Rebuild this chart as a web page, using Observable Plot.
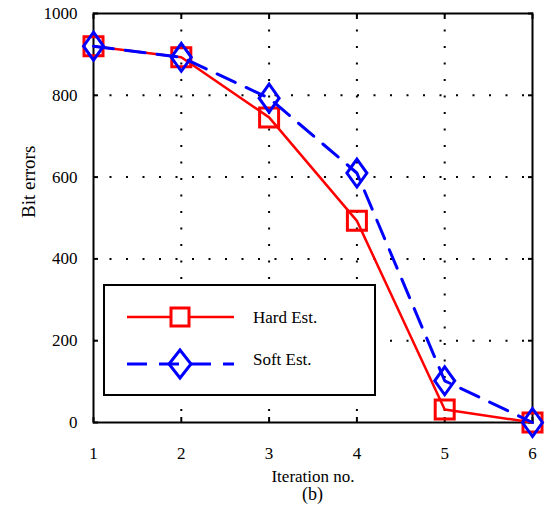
<!DOCTYPE html>
<html>
<head>
<meta charset="utf-8">
<script src="https://cdn.jsdelivr.net/npm/d3@7"></script>
<script src="https://cdn.jsdelivr.net/npm/@observablehq/plot@0.6"></script>
<style>
  html, body { margin: 0; padding: 0; background: white; }
  #wrap { position: relative; width: 552px; height: 510px; font-family: "Liberation Serif", "Times New Roman", serif; }
  #chart svg { font-family: "Liberation Serif", "Times New Roman", serif !important; font-size: 17px !important; }
  #caption { position: absolute; left: 0; width: 625px; top: 484px; text-align: center; font-size: 18px; line-height: 20px; }
  #legend { position: absolute; left: 103px; top: 284px; width: 269px; height: 108px; border: 2px solid black; background: white; }
  #legend svg { position: absolute; left: 0; top: 0; }
  #legend .lab { position: absolute; left: 148px; font-size: 17px; line-height: 18px; }
</style>
</head>
<body>
<div id="wrap"><div id="chart"></div>
<div id="legend"></div>
<div id="caption">(b)</div>
</div>
<script>
// ---- data ----
const iterations = [1, 2, 3, 4, 5, 6];
const hardEst = [920, 893, 746, 493, 32, 0];
const softEst = [920, 893, 793, 610, 102, 0];
const seriesNames = ["Hard Est.", "Soft Est."];
const xTicks = [1, 2, 3, 4, 5, 6];
const yTicks = [0, 200, 400, 600, 800, 1000];
const xGrid = [2, 3, 4, 5];
const yGrid = [200, 400, 600, 800];
const xLabel = "Iteration no.";
const yLabel = "Bit errors";

const hard = iterations.map((x, i) => ({x, y: hardEst[i]}));
const soft = iterations.map((x, i) => ({x, y: softEst[i]}));

// custom marker shapes (MATLAB-like)
const squareSym = {draw(ctx) { const s = 9.5; ctx.moveTo(-s, -s); ctx.lineTo(s, -s); ctx.lineTo(s, s); ctx.lineTo(-s, s); ctx.closePath(); }};
const diamondSym = {draw(ctx) { const w = 10, h = 14; ctx.moveTo(0, -h); ctx.lineTo(w, 0); ctx.lineTo(0, h); ctx.lineTo(-w, 0); ctx.closePath(); }};

const RED = "#ff0000", BLUE = "#0000ff";
const fmt = d => String(d);

const chart = Plot.plot({
  width: 552,
  height: 470,
  marginLeft: 93,
  marginRight: 20,
  marginTop: 13,
  marginBottom: 48,
  style: {fontFamily: "Liberation Serif", fontSize: "17px", color: "black", background: "white", overflow: "visible"},
  x: {domain: [1, 6]},
  y: {domain: [0, 1000]},
  marks: [
    Plot.ruleY(yGrid, {y: d => d, stroke: "black", strokeWidth: 2, strokeDasharray: "2,14.5", strokeOpacity: 1}),
    Plot.ruleX(xGrid, {x: d => d, stroke: "black", strokeWidth: 2, strokeDasharray: "2,14.5", strokeOpacity: 1}),
    // inward tick marks on all sides
    Plot.axisX(xTicks, {anchor: "bottom", tickSize: -5, text: null, label: null, strokeWidth: 2}),
    Plot.axisX(xTicks, {anchor: "top", tickSize: -5, text: null, label: null, strokeWidth: 2}),
    Plot.axisY(yTicks, {anchor: "left", tickSize: -5, text: null, label: null, strokeWidth: 2}),
    Plot.axisY(yTicks, {anchor: "right", tickSize: -5, text: null, label: null, strokeWidth: 2}),
    // tick labels
    Plot.axisX(xTicks, {anchor: "bottom", tickSize: 0, tickPadding: 24, label: null, tickFormat: fmt}),
    Plot.axisY(yTicks, {anchor: "left", tickSize: 0, tickPadding: 16, label: null, tickFormat: fmt}),
    Plot.frame({stroke: "black", strokeWidth: 2}),
    Plot.text([yLabel], {text: d => d, frameAnchor: "left", dx: -65, rotate: -90, fontSize: 19}),
    Plot.text([xLabel], {text: d => d, frameAnchor: "bottom", dy: 59, fontSize: 17}),
    // series
    Plot.line(hard, {x: "x", y: "y", stroke: RED, strokeWidth: 2.5}),
    Plot.dot(hard, {x: "x", y: "y", symbol: squareSym, r: 8, stroke: RED, strokeWidth: 3, fill: "none"}),
    Plot.line(soft, {x: "x", y: "y", stroke: BLUE, strokeWidth: 3, strokeDasharray: "20,12"}),
    Plot.dot(soft, {x: "x", y: "y", symbol: diamondSym, r: 8, stroke: BLUE, strokeWidth: 3, fill: "none"})
  ]
});
document.getElementById("chart").appendChild(chart);

// legend
const leg = document.getElementById("legend");
const lsvg = d3.create("svg").attr("width", 269).attr("height", 108);
lsvg.append("line").attr("x1", 22).attr("x2", 129).attr("y1", 31).attr("y2", 31).attr("stroke", RED).attr("stroke-width", 2.5);
lsvg.append("rect").attr("x", 66).attr("y", 22).attr("width", 18).attr("height", 18).attr("fill", "white").attr("stroke", RED).attr("stroke-width", 3);
lsvg.append("line").attr("x1", 22).attr("x2", 129).attr("y1", 78).attr("y2", 78).attr("stroke", BLUE).attr("stroke-width", 3).attr("stroke-dasharray", "20,12");
lsvg.append("path").attr("d", "M75,64L86,78L75,92L64,78Z").attr("fill", "none").attr("stroke", BLUE).attr("stroke-width", 3);
leg.appendChild(lsvg.node());
seriesNames.forEach((name, i) => {
  const d = document.createElement("div");
  d.className = "lab";
  d.style.top = (i === 0 ? 23 : 65) + "px";
  d.textContent = name;
  leg.appendChild(d);
});
</script>
</body>
</html>
